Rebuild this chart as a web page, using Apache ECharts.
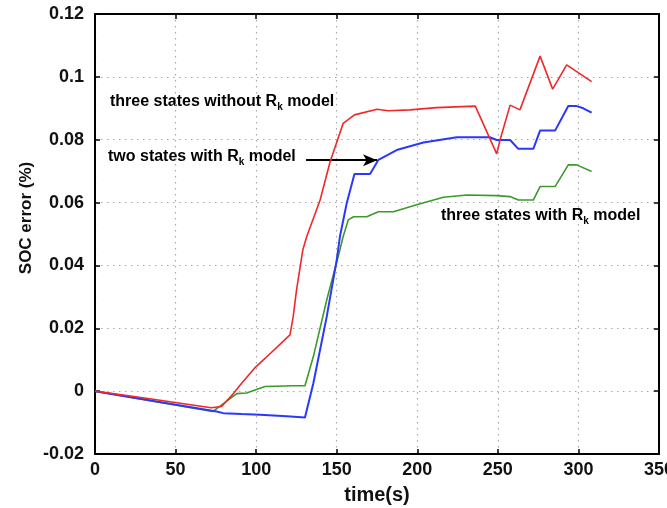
<!DOCTYPE html>
<html>
<head>
<meta charset="utf-8">
<script src="https://cdn.jsdelivr.net/npm/echarts@6/dist/echarts.min.js"></script>
<style>
html,body{margin:0;padding:0;background:#fff;}
#chart{width:667px;height:508px;}
</style>
</head>
<body>
<div id="chart"></div>
<script>
// SOC error over time, three models

var redTime = [0, 35, 72, 78.6, 86, 91, 99, 105.5, 121, 123, 125, 129, 131.4, 139.7, 145.9, 154, 161, 175, 182, 195.5, 212, 236, 249.3, 251.4, 257.6, 263.7, 276.2, 284, 292.7, 308.2];
var redSoc  = [0, -0.0025, -0.0053, -0.0049, -0.0007, 0.0025, 0.0073, 0.0104, 0.0179, 0.0237, 0.032, 0.045, 0.0492, 0.0608, 0.073, 0.0852, 0.0879, 0.0897, 0.0892, 0.0895, 0.0902, 0.0907, 0.0755, 0.080, 0.091, 0.0895, 0.1066, 0.0961, 0.1038, 0.0985];

var blueTime = [0, 75.5, 79.6, 91, 102.4, 119, 130.3, 135.5, 143.8, 150, 152, 156.2, 161, 170.7, 175.9, 187.2, 203.8, 224.5, 245, 249.3, 257.6, 262.7, 272, 276.2, 285.5, 293.7, 298.9, 303, 308.2];
var blueSoc  = [0, -0.0065, -0.0070, -0.0073, -0.0075, -0.0080, -0.0084, 0.0025, 0.0237, 0.0417, 0.0492, 0.0598, 0.0691, 0.0691, 0.0736, 0.0767, 0.0791, 0.0808, 0.0808, 0.0799, 0.0799, 0.0771, 0.0771, 0.0829, 0.0829, 0.0907, 0.0907, 0.0900, 0.0886];

var greenTime = [0, 73, 88, 94, 105.5, 123, 130.3, 135.5, 143.8, 152, 154, 157.2, 160.4, 168.6, 175.9, 185.2, 199.6, 216.2, 230.7, 249.3, 257.6, 262.7, 272, 276.2, 285.5, 293.7, 298.9, 308.2];
var greenSoc  = [0, -0.0065, -0.0008, -0.0006, 0.0015, 0.0017, 0.0017, 0.011, 0.029, 0.045, 0.0492, 0.0545, 0.0555, 0.0555, 0.0571, 0.0571, 0.0593, 0.0617, 0.0624, 0.0622, 0.0619, 0.0608, 0.0608, 0.0651, 0.0651, 0.072, 0.072, 0.0699];

// arrow pointing at the blue curve
var arrowFrom = [131, 0.0735];
var arrowTo   = [175, 0.0735];

function zip(t, v){ return t.map(function(x,i){ return [x, v[i]]; }); }

var FONT = 'Liberation Sans, Arial, sans-serif';
var gridDot = {color:'#a8a8a8', width:1.2, type:[1.5,4.5]};
var boxLine = {onZero:false, show:true, lineStyle:{color:'#000', width:2}};
var inTick = {show:true, inside:true, length:5, lineStyle:{color:'#000', width:1.5}};

var chart = echarts.init(document.getElementById('chart'));

function lbl(a, b){
  return '{a|'+a+'}{s|k}{a|'+b+'}';
}
var rich = {
  a:{fontFamily:FONT, fontWeight:'bold', fontSize:16, color:'#111', lineHeight:20},
  s:{fontFamily:FONT, fontWeight:'bold', fontSize:10, color:'#111', lineHeight:20, verticalAlign:'bottom', padding:[6,0,0,0]}
};

chart.setOption({
  animation:false,
  backgroundColor:'#fff',
  grid:{left:95, right:8, top:14, bottom:54, outerBoundsMode:'none'},
  xAxis:[{
    type:'value', min:0, max:350, interval:50,
    axisLine:boxLine, axisTick:inTick,
    axisLabel:{color:'#111', fontFamily:FONT, fontWeight:'bold', fontSize:18, margin:7},
    splitLine:{show:true, lineStyle:gridDot}
  },{
    type:'value', position:'top', min:0, max:350, interval:50,
    axisLine:boxLine, axisTick:inTick,
    axisLabel:{show:false}, splitLine:{show:false}
  }],
  yAxis:[{
    type:'value', min:-0.02, max:0.12, interval:0.02,
    axisLine:boxLine, axisTick:inTick,
    axisLabel:{color:'#111', fontFamily:FONT, fontWeight:'bold', fontSize:18, margin:11},
    splitLine:{show:true, lineStyle:gridDot}
  },{
    type:'value', position:'right', min:-0.02, max:0.12, interval:0.02,
    axisLine:boxLine, axisTick:inTick,
    axisLabel:{show:false}, splitLine:{show:false}
  }],
  series:[
    {type:'line', name:'three states with Rk model', data:zip(greenTime, greenSoc), showSymbol:false,
      lineStyle:{color:'#3c9a2c', width:1.6}, z:3},
    {type:'line', name:'two states with Rk model', data:zip(blueTime, blueSoc), showSymbol:false,
      lineStyle:{color:'#2a38ff', width:2}, z:4,
      markLine:{silent:true, symbol:['none','arrow'], symbolSize:[9,14], label:{show:false},
        lineStyle:{color:'#000', width:2, type:'solid'},
        data:[[{coord:arrowFrom},{coord:arrowTo}]]}},
    {type:'line', name:'three states without Rk model', data:zip(redTime, redSoc), showSymbol:false,
      lineStyle:{color:'#f02828', width:1.6}, z:5}
  ],
  graphic:[
    {type:'text', left:110, top:94, style:{text:lbl('three states without R',' model'), rich:rich}},
    {type:'text', left:108, top:149, style:{text:lbl('two states with R',' model'), rich:rich}},
    {type:'text', left:441, top:208, style:{text:lbl('three states with R',' model'), rich:rich}},
    {type:'text', x:377, y:495, style:{text:'time(s)', font:'bold 20px '+FONT, fill:'#111', align:'center', verticalAlign:'middle'}},
    {type:'text', x:26, y:218, rotation:Math.PI/2, style:{text:'SOC error (%)', font:'bold 17px '+FONT, fill:'#111', align:'center', verticalAlign:'middle'}}
  ]
});
</script>
</body>
</html>
